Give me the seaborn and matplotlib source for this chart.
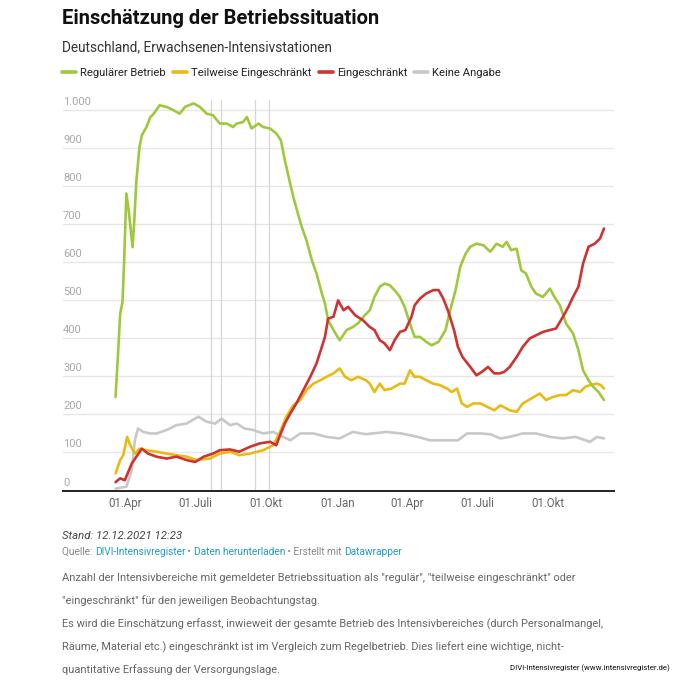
import matplotlib
matplotlib.use("Agg")
import matplotlib.pyplot as plt
import matplotlib.transforms as mtransforms
from matplotlib.lines import Line2D
import seaborn as sns
import pandas as pd

# ---------------- data ----------------
green_dates = ["2020-03-20","2020-03-23","2020-03-26","2020-03-29","2020-03-31","2020-04-03","2020-04-06",
    "2020-04-11","2020-04-13","2020-04-16","2020-04-20","2020-04-23","2020-04-29","2020-05-04","2020-05-08",
    "2020-05-16","2020-05-25","2020-06-03","2020-06-11","2020-06-18","2020-06-29","2020-07-07","2020-07-16",
    "2020-07-24","2020-08-02","2020-08-11","2020-08-19","2020-08-24","2020-09-01","2020-09-06","2020-09-12",
    "2020-09-21","2020-09-27","2020-10-06","2020-10-14","2020-10-20","2020-10-25","2020-11-01","2020-11-05",
    "2020-11-11","2020-11-16","2020-11-22","2020-11-29","2020-12-05","2020-12-12","2020-12-16","2020-12-20",
    "2020-12-27","2021-01-04","2021-01-13","2021-01-21","2021-01-28","2021-02-05","2021-02-12","2021-02-18",
    "2021-02-25","2021-03-03","2021-03-10","2021-03-18","2021-03-23","2021-03-29","2021-04-05","2021-04-11",
    "2021-04-18","2021-04-26","2021-05-03","2021-05-12","2021-05-21","2021-05-27","2021-06-03","2021-06-09",
    "2021-06-16","2021-06-22","2021-06-30","2021-07-09","2021-07-18","2021-07-26","2021-08-03","2021-08-08",
    "2021-08-14","2021-08-21","2021-08-27","2021-09-02","2021-09-09","2021-09-15","2021-09-24","2021-10-03",
    "2021-10-09","2021-10-16","2021-10-24","2021-11-02","2021-11-09","2021-11-15","2021-11-22","2021-11-28",
    "2021-12-05","2021-12-12"]
green_vals = [246,352,465,496,597,781,737,640,702,816,904,934,956,982,990,1013,1009,1000,991,1009,1018,1009,
    991,987,965,965,956,965,969,982,952,965,956,952,939,921,869,807,772,728,693,658,606,571,518,492,448,422,
    395,422,430,440,460,474,509,536,544,540,522,509,483,439,404,404,391,382,391,422,474,527,588,623,641,649,
    645,628,649,641,654,632,636,579,571,536,518,509,531,509,487,439,413,369,316,290,273,259,238]

yellow_dates = ["2020-03-20","2020-03-26","2020-03-30","2020-04-04","2020-04-08","2020-04-14","2020-04-20",
    "2020-04-29","2020-05-12","2020-05-25","2020-06-07","2020-06-20","2020-07-03","2020-07-20","2020-08-02",
    "2020-08-15","2020-08-27","2020-09-10","2020-09-27","2020-10-10","2020-10-18","2020-10-27","2020-11-05",
    "2020-11-14","2020-11-22","2020-12-01","2020-12-10","2020-12-18","2020-12-27","2021-01-04","2021-01-11",
    "2021-01-19","2021-01-28","2021-02-07","2021-02-12","2021-02-18","2021-02-25","2021-03-03","2021-03-12",
    "2021-03-23","2021-03-29","2021-04-05","2021-04-11","2021-04-18","2021-04-26","2021-05-05","2021-05-14",
    "2021-05-23","2021-05-29","2021-06-05","2021-06-11","2021-06-18","2021-06-26","2021-07-05","2021-07-14",
    "2021-07-23","2021-07-31","2021-08-12","2021-08-21","2021-08-29","2021-09-09","2021-09-20","2021-09-28",
    "2021-10-07","2021-10-16","2021-10-24","2021-11-02","2021-11-11","2021-11-18","2021-11-24","2021-12-03",
    "2021-12-08","2021-12-12"]
yellow_vals = [45,80,93,141,119,97,110,106,102,97,93,89,80,84,97,102,93,97,106,119,150,194,224,238,264,281,
    290,299,308,321,299,290,299,290,281,259,281,264,268,281,281,316,299,299,290,281,277,268,259,268,229,220,
    229,229,220,211,224,211,207,229,242,255,238,246,251,251,264,259,273,277,281,277,268]

red_dates = ["2020-03-20","2020-03-26","2020-04-01","2020-04-10","2020-04-16","2020-04-23","2020-05-01",
    "2020-05-12","2020-05-25","2020-06-07","2020-06-20","2020-07-01","2020-07-12","2020-07-24","2020-08-02",
    "2020-08-15","2020-08-27","2020-09-10","2020-09-23","2020-10-06","2020-10-14","2020-10-18","2020-10-25",
    "2020-11-01","2020-11-09","2020-11-18","2020-11-27","2020-12-05","2020-12-12","2020-12-16","2020-12-20",
    "2020-12-27","2021-01-02","2021-01-09","2021-01-15","2021-01-24","2021-02-03","2021-02-12","2021-02-18",
    "2021-02-25","2021-03-03","2021-03-10","2021-03-16","2021-03-23","2021-03-30","2021-04-07","2021-04-11",
    "2021-04-18","2021-04-26","2021-05-05","2021-05-12","2021-05-18","2021-05-24","2021-06-01","2021-06-06",
    "2021-06-12","2021-06-22","2021-06-30","2021-07-07","2021-07-15","2021-07-23","2021-07-30","2021-08-05",
    "2021-08-12","2021-08-21","2021-08-29","2021-09-07","2021-09-15","2021-09-24","2021-10-03","2021-10-11",
    "2021-10-20","2021-10-27","2021-11-02","2021-11-09","2021-11-15","2021-11-22","2021-11-30","2021-12-07",
    "2021-12-12"]
red_vals = [22,32,27,71,89,110,97,89,84,89,80,75,89,97,106,108,102,115,124,128,119,141,176,202,229,264,299,
    334,378,404,452,457,500,474,483,461,448,430,422,395,387,369,395,417,422,457,487,505,518,527,527,505,474,
    422,378,351,325,303,312,325,308,308,312,325,351,378,400,408,417,422,426,457,483,509,536,597,641,649,663,689]

grey_dates = ["2020-03-20","2020-04-03","2020-04-10","2020-04-14","2020-04-18","2020-04-25","2020-05-04",
    "2020-05-12","2020-05-25","2020-06-07","2020-06-20","2020-07-05","2020-07-16","2020-07-27","2020-08-04",
    "2020-08-15","2020-08-24","2020-09-03","2020-09-14","2020-09-27","2020-10-10","2020-10-23","2020-11-01",
    "2020-11-14","2020-12-01","2020-12-18","2021-01-04","2021-01-21","2021-02-07","2021-03-05","2021-03-25",
    "2021-04-15","2021-05-01","2021-05-20","2021-06-06","2021-06-18","2021-07-05","2021-07-18","2021-07-31",
    "2021-08-12","2021-08-29","2021-09-15","2021-10-03","2021-10-20","2021-11-05","2021-11-24","2021-12-03",
    "2021-12-12"]
grey_vals = [5,10,53,132,163,154,150,150,159,172,176,194,181,176,189,172,176,163,159,150,154,141,132,150,150,
    141,137,154,148,154,150,141,132,132,132,150,150,148,137,141,150,150,141,137,141,128,141,137]

series_names = ["Regulärer Betrieb", "Teilweise Eingeschränkt", "Eingeschränkt", "Keine Angabe"]
series_colors = ["#9fc83c", "#e9bb12", "#cf3331", "#c8c8c8"]

marker_dates = ["2020-07-21", "2020-08-04", "2020-09-17", "2020-10-04"]

tick_dates = ["2020-04-01", "2020-07-01", "2020-10-01", "2021-01-01", "2021-04-01", "2021-07-01", "2021-10-01"]
tick_labels = ["01.Apr", "01.Juli", "01.Okt", "01.Jan", "01.Apr", "01.Juli", "01.Okt"]
y_ticks = [0, 100, 200, 300, 400, 500, 600, 700, 800, 900, 1000]
y_labels = ["0", "100", "200", "300", "400", "500", "600", "700", "800", "900", "1.000"]

# ---------------- build long table ----------------
frames = []
for name, d, v in zip(series_names,
                      [green_dates, yellow_dates, red_dates, grey_dates],
                      [green_vals, yellow_vals, red_vals, grey_vals]):
    frames.append(pd.DataFrame({"date": pd.to_datetime(d), "value": v, "series": name}))
df = pd.concat(frames, ignore_index=True)

# ---------------- style ----------------
sns.set_theme(style="white")
plt.rcParams["font.family"] = ["Roboto", "DejaVu Sans"]

W, H = 680, 680
fig = plt.figure(figsize=(W / 100, H / 100), dpi=100)
fig.patch.set_facecolor("white")

ax_left, ax_right, ax_top, ax_bottom = 63, 614, 100, 490.5
ax = fig.add_axes([ax_left / W, 1 - ax_bottom / H, (ax_right - ax_left) / W, (ax_bottom - ax_top) / H])

order = ["Keine Angabe", "Teilweise Eingeschränkt", "Regulärer Betrieb", "Eingeschränkt"]
pal = dict(zip(series_names, series_colors))
for name in order:
    sns.lineplot(data=df[df["series"] == name], x="date", y="value", color=pal[name],
                 linewidth=1.9, estimator=None, sort=True, ax=ax, legend=False, zorder=3)

for md in marker_dates:
    ax.axvline(pd.Timestamp(md), color="#d6d6d6", linewidth=0.9, zorder=1)

ax.set_xlim(pd.Timestamp("2020-01-12"), pd.Timestamp("2021-12-25"))
ax.set_ylim(0, 1027)
ax.set_yticks(y_ticks)
ax.set_yticklabels([])
ax.tick_params(axis="y", length=0)
ax.yaxis.grid(True, color="#e6e6e6", linewidth=1.0, zorder=0)
ax.xaxis.grid(False)
ax.set_xticks(pd.to_datetime(tick_dates))
ax.set_xticklabels(tick_labels, fontsize=8.3, color="#666666")
ax.tick_params(axis="x", length=0, pad=5)
ax.set_xlabel("")
ax.set_ylabel("")
for s in ["left", "right", "top"]:
    ax.spines[s].set_visible(False)
ax.spines["bottom"].set_color("#222222")
ax.spines["bottom"].set_linewidth(1.4)
ax.set_facecolor("white")

trans = mtransforms.blended_transform_factory(ax.transAxes, ax.transData)
trans = mtransforms.offset_copy(trans, fig=fig, x=0, y=3, units="dots")
for v, lab in zip(y_ticks, y_labels):
    ax.text(0.0, v, lab, transform=trans, ha="left", va="bottom", fontsize=8.0, color="#a8a8a8", zorder=2)

# ---------------- titles ----------------
fig.text(62 / W, 1 - 18 / H, "Einschätzung der Betriebssituation", fontsize=14.5,
         fontweight="bold", color="#111111", ha="left", va="center")
fig.text(62 / W, 1 - 47 / H, "Deutschland, Erwachsenen-Intensivstationen", fontsize=9.8,
         color="#333333", ha="left", va="center")

handles = [Line2D([0], [0], color=c, linewidth=2.6) for c in series_colors]
fig.legend(handles, series_names, loc="center left", bbox_to_anchor=(62 / W, 1 - 73 / H),
           ncol=4, frameon=False, fontsize=8.1, handlelength=1.25, handletextpad=0.35,
           columnspacing=0.65, borderpad=0, borderaxespad=0, labelcolor="#222222")

# ---------------- footer ----------------
fig.text(62 / W, 1 - 536 / H, "Stand: 12.12.2021 12:23", fontsize=8.2, style="italic",
         color="#444444", ha="left", va="center")

renderer = fig.canvas.get_renderer()
pieces = [("Quelle: ", "#888888"), ("DIVI-Intensivregister", "#1d9ad0"), (" • ", "#888888"),
          ("Daten herunterladen", "#1d9ad0"), (" • Erstellt mit ", "#888888"), ("Datawrapper", "#1d9ad0")]
xpix = 62
for txt, col in pieces:
    t = fig.text(xpix / W, 1 - 552 / H, txt, fontsize=7.3, color=col, ha="left", va="center")
    bb = t.get_window_extent(renderer=renderer)
    xpix += bb.width

notes = [
    'Anzahl der Intensivbereiche mit gemeldeter Betriebssituation als "regulär", "teilweise eingeschränkt" oder',
    '"eingeschränkt" für den jeweiligen Beobachtungstag.',
    'Es wird die Einschätzung erfasst, inwieweit der gesamte Betrieb des Intensivbereiches (durch Personalmangel,',
    'Räume, Material etc.) eingeschränkt ist im Vergleich zum Regelbetrieb. Dies liefert eine wichtige, nicht-',
    'quantitative Erfassung der Versorgungslage.',
]
for i, line in enumerate(notes):
    fig.text(62 / W, 1 - (578 + 23 * i) / H, line, fontsize=7.95, color="#666666", ha="left", va="center")

fig.text(670 / W, 1 - 668 / H, "DIVI-Intensivregister (www.intensivregister.de)", fontsize=5.6,
         color="#111111", ha="right", va="center")

fig.savefig("out.png", dpi=100, facecolor="white")
